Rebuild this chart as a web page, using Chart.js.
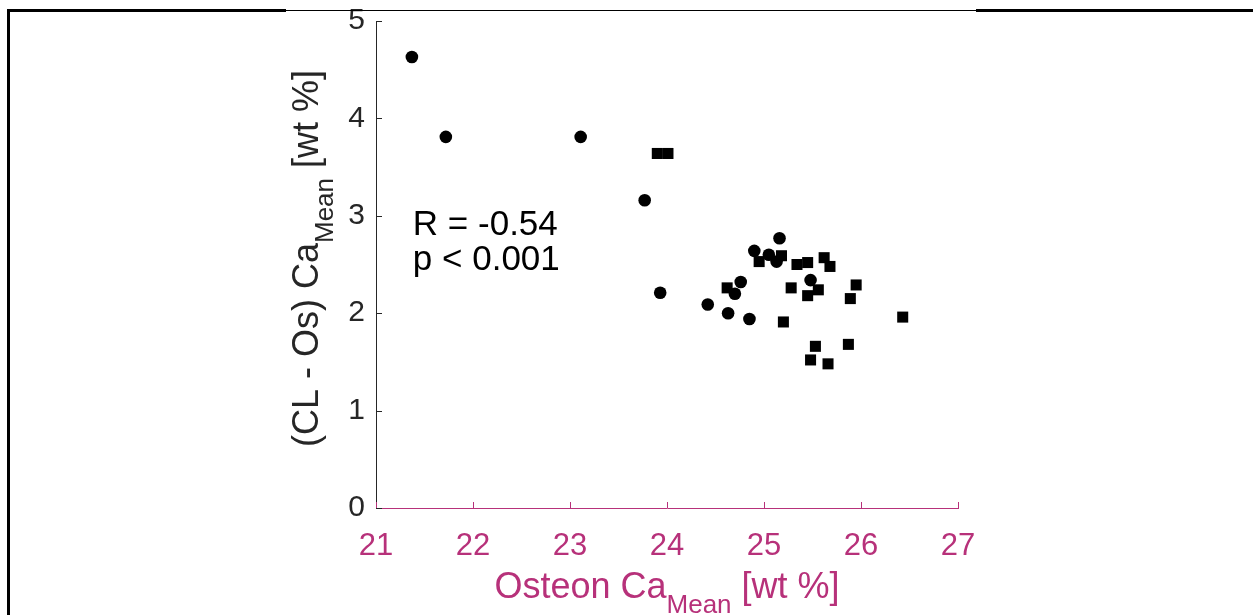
<!DOCTYPE html>
<html>
<head>
<meta charset="utf-8">
<script src="https://cdn.jsdelivr.net/npm/chart.js@4.4.1/dist/chart.umd.min.js"></script>
<style>
  html, body { margin: 0; padding: 0; background: #fff; }
  #wrap { position: relative; width: 1253px; height: 615px; overflow: hidden; }
  .frame { position: absolute; background: #000; }
</style>
</head>
<body>
<div id="wrap">
  <canvas id="myChart" width="1253" height="615"></canvas>
  <div class="frame" style="left:7px;top:9px;width:3px;height:606px"></div>
  <div class="frame" style="left:7px;top:9px;width:279px;height:3px"></div>
  <div class="frame" style="left:286px;top:10px;width:690px;height:1px"></div>
  <div class="frame" style="left:976px;top:9px;width:277px;height:3px"></div>
</div>
<script>
const ctx = document.getElementById('myChart');

// circles
const circleX = [21.37, 21.72, 23.11, 23.77, 23.93, 24.42, 24.63, 24.85, 24.70, 24.76, 24.90, 25.05, 25.13, 25.16, 25.48];
const circleY = [4.63, 3.81, 3.81, 3.16, 2.21, 2.09, 2.00, 1.94, 2.20, 2.32, 2.64, 2.60, 2.53, 2.77, 2.34];
// squares
const squareX = [23.90, 24.01, 24.62, 24.95, 25.18, 25.34, 25.45, 25.62, 25.68, 25.28, 25.56, 25.45, 25.95, 25.89, 26.43, 25.20, 25.53, 25.87, 25.48, 25.66];
const squareY = [3.64, 3.64, 2.26, 2.53, 2.59, 2.50, 2.52, 2.57, 2.48, 2.26, 2.24, 2.18, 2.29, 2.15, 1.96, 1.91, 1.66, 1.68, 1.52, 1.48];

const xTicks = [21, 22, 23, 24, 25, 26, 27];
const yTicks = [0, 1, 2, 3, 4, 5];
const statLines = ['R = -0.54', 'p < 0.001'];

const pink = '#b7317a';
const grey = '#262626';
const fam = '"Liberation Sans", Arial, sans-serif';

const toPoints = (xs, ys) => xs.map((x, i) => ({ x: x, y: ys[i] }));

// draws text with a subscript part: [main, sub, rest]
function subText(c, parts, x, y, big, small, align) {
  c.font = big + 'px ' + fam;
  const w1 = c.measureText(parts[0]).width;
  const w3 = c.measureText(parts[2]).width;
  c.font = small + 'px ' + fam;
  const w2 = c.measureText(parts[1]).width;
  let x0 = align === 'center' ? x - (w1 + w2 + w3) / 2 : x;
  c.textAlign = 'left';
  c.textBaseline = 'alphabetic';
  c.font = big + 'px ' + fam;
  c.fillText(parts[0], x0, y);
  c.font = small + 'px ' + fam;
  c.fillText(parts[1], x0 + w1, y + 15);
  c.font = big + 'px ' + fam;
  c.fillText(parts[2], x0 + w1 + w2, y);
}

const extras = {
  id: 'extras',
  afterDraw(chart) {
    const c = chart.ctx;
    const xs = chart.scales.x, ys = chart.scales.y;
    const a = chart.chartArea;
    c.save();
    // inward ticks
    c.lineWidth = 1;
    c.strokeStyle = pink;
    xTicks.forEach(v => {
      const px = Math.round(xs.getPixelForValue(v)) + 0.5;
      c.beginPath(); c.moveTo(px, a.bottom); c.lineTo(px, a.bottom - 6); c.stroke();
    });
    c.strokeStyle = grey;
    yTicks.forEach(v => {
      const py = Math.round(ys.getPixelForValue(v)) + 0.5;
      c.beginPath(); c.moveTo(a.left, py); c.lineTo(a.left + 6, py); c.stroke();
    });
    // x title
    c.fillStyle = pink;
    subText(c, ['Osteon Ca', 'Mean', ' [wt %]'], (a.left + a.right) / 2, 598, 36, 26, 'center');
    // y title
    c.fillStyle = grey;
    c.translate(318, (a.top + a.bottom) / 2 - 6);
    c.rotate(-Math.PI / 2);
    subText(c, ['(CL - Os) Ca', 'Mean', ' [wt %]'], 0, 0, 36, 26, 'center');
    c.restore();
    // stats text
    c.save();
    c.fillStyle = '#000';
    c.font = '35px ' + fam;
    c.textAlign = 'left';
    c.textBaseline = 'alphabetic';
    const tx = xs.getPixelForValue(21.38);
    c.fillText(statLines[0], tx, ys.getPixelForValue(2.80));
    c.fillText(statLines[1], tx, ys.getPixelForValue(2.44));
    c.restore();
  }
};

new Chart(ctx, {
  type: 'scatter',
  data: {
    datasets: [{
      label: 'circles',
      data: toPoints(circleX, circleY),
      pointStyle: 'circle',
      pointRadius: 6.3,
      pointHoverRadius: 6.3,
      pointBorderWidth: 0,
      backgroundColor: '#000',
      borderColor: '#000'
    }, {
      label: 'squares',
      data: toPoints(squareX, squareY),
      pointStyle: 'rect',
      pointRadius: 7.8,
      pointHoverRadius: 7.8,
      pointBorderWidth: 0,
      backgroundColor: '#000',
      borderColor: '#000'
    }]
  },
  options: {
    responsive: false,
    animation: false,
    devicePixelRatio: 1,
    layout: { padding: { left: 0, top: 21, right: 295, bottom: 0 } },
    plugins: { legend: { display: false }, tooltip: { enabled: false } },
    scales: {
      x: {
        type: 'linear',
        min: 21, max: 27,
        afterBuildTicks: s => { s.ticks = xTicks.map(v => ({ value: v })); },
        afterFit: s => { s.height = 107; s.paddingLeft = 0; s.paddingRight = 0; },
        grid: { display: false, drawTicks: false },
        border: { display: true, color: pink, width: 1 },
        ticks: { color: pink, font: { size: 31, family: fam }, padding: 20 }
      },
      y: {
        type: 'linear',
        min: 0, max: 5,
        afterBuildTicks: s => { s.ticks = yTicks.map(v => ({ value: v })); },
        afterFit: s => { s.width = 376; s.paddingTop = 0; s.paddingBottom = 0; },
        grid: { display: false, drawTicks: false },
        border: { display: true, color: grey, width: 1 },
        ticks: { color: grey, font: { size: 30, family: fam }, padding: 11 }
      }
    }
  },
  plugins: [extras]
});
</script>
</body>
</html>
